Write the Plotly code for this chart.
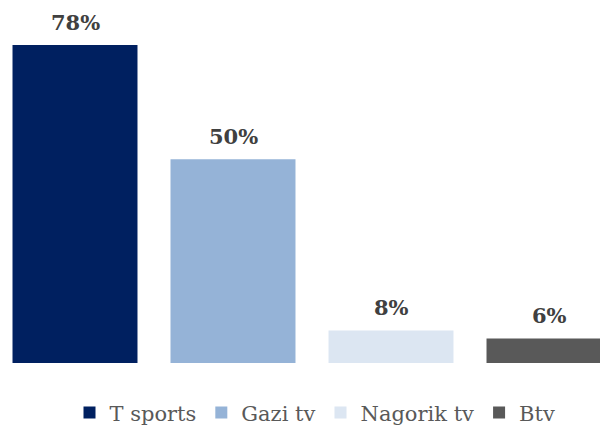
import plotly.graph_objects as go

categories = ["T sports", "Gazi tv", "Nagorik tv", "Btv"]
values = [78, 50, 8, 6]
labels = ["78%", "50%", "8%", "6%"]
colors = ["#002060", "#95B3D7", "#DCE6F2", "#595959"]

FONT = "DejaVu Serif"

fig = go.Figure()
for i, (c, v, col) in enumerate(zip(categories, values, colors)):
    fig.add_trace(go.Bar(x=[i], y=[v], name=c, marker=dict(color=col, line=dict(width=0)),
                         width=0.791, showlegend=True, hoverinfo="skip"))
    fig.add_annotation(x=i, y=v, text="<b>%s</b>" % labels[i], showarrow=False,
                       yanchor="middle", yshift=23,
                       font=dict(family=FONT, size=21, color="#404040"))

fig.update_layout(
    width=600, height=428,
    margin=dict(l=0, r=0, t=0, b=65, autoexpand=False),
    barmode="overlay",
    plot_bgcolor="white", paper_bgcolor="white",
    xaxis=dict(range=[-0.4747, 3.3228], visible=False, fixedrange=True),
    yaxis=dict(range=[0, 89.04], visible=False, fixedrange=True),
    legend=dict(orientation="h", x=0.525, xanchor="center", y=-0.137, yanchor="middle",
                font=dict(family=FONT, size=21, color="#595959"),
                itemwidth=30, tracegroupgap=0),
    showlegend=True,
)
fig.write_html("out.html", config={"displayModeBar": False},
               post_script="document.body.style.margin='0';document.body.style.padding='0';")
